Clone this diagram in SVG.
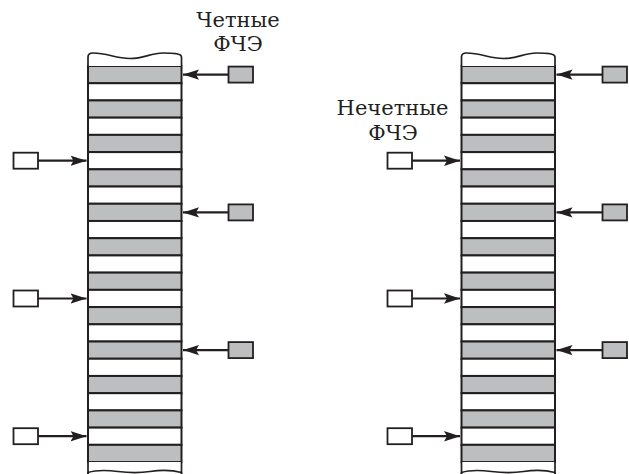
<svg xmlns="http://www.w3.org/2000/svg" width="629" height="474" viewBox="0 0 629 474">
<style>
.bg{fill:#fff}
.g{fill:#bcbec0;stroke:#231f20;stroke-width:2}
.w{fill:#fff;stroke:#231f20;stroke-width:2}
.wave{fill:#fff;stroke:#231f20;stroke-width:1.7}
.box-g{fill:#bcbec0;stroke:#231f20;stroke-width:1.8}
.box-w{fill:#fff;stroke:#231f20;stroke-width:1.8}
.arr{stroke:#231f20;stroke-width:2.2;fill:none;marker-end:url(#ah)}
text{font-family:"DejaVu Serif","Liberation Serif",serif;font-size:21px;fill:#231f20;text-anchor:middle}
</style>
<defs>
<marker id="ah" markerUnits="userSpaceOnUse" markerWidth="18" markerHeight="12" refX="16" refY="6" orient="auto" viewBox="0 0 18 12">
<path d="M0,0.8 L16,6 L0,11.2 L3,6 Z" fill="#231f20"/>
</marker>
<g id="stripes">
<rect class="g" x="0" y="66" width="93.5" height="17.22"/>
<rect class="w" x="0" y="83.22" width="93.5" height="17.22"/>
<rect class="g" x="0" y="100.44" width="93.5" height="17.22"/>
<rect class="w" x="0" y="117.66" width="93.5" height="17.22"/>
<rect class="g" x="0" y="134.88" width="93.5" height="17.22"/>
<rect class="w" x="0" y="152.10" width="93.5" height="17.22"/>
<rect class="g" x="0" y="169.32" width="93.5" height="17.22"/>
<rect class="w" x="0" y="186.54" width="93.5" height="17.22"/>
<rect class="g" x="0" y="203.76" width="93.5" height="17.22"/>
<rect class="w" x="0" y="220.98" width="93.5" height="17.22"/>
<rect class="g" x="0" y="238.20" width="93.5" height="17.22"/>
<rect class="w" x="0" y="255.42" width="93.5" height="17.22"/>
<rect class="g" x="0" y="272.64" width="93.5" height="17.22"/>
<rect class="w" x="0" y="289.86" width="93.5" height="17.22"/>
<rect class="g" x="0" y="307.08" width="93.5" height="17.22"/>
<rect class="w" x="0" y="324.30" width="93.5" height="17.22"/>
<rect class="g" x="0" y="341.52" width="93.5" height="17.22"/>
<rect class="w" x="0" y="358.74" width="93.5" height="17.22"/>
<rect class="g" x="0" y="375.96" width="93.5" height="17.22"/>
<rect class="w" x="0" y="393.18" width="93.5" height="17.22"/>
<rect class="g" x="0" y="410.40" width="93.5" height="17.22"/>
<rect class="w" x="0" y="427.62" width="93.5" height="17.22"/>
<rect class="g" x="0" y="444.84" width="93.5" height="17.22"/>
<path class="wave" d="M0,66 V57 Q0,53 5,53 C20,53 27,58.5 42,58.5 C57,58.5 62,53 75,53 C84,53 93.5,53 93.5,57 V66"/>
<path class="wave" d="M0,462.06 V472.5 C8,470 18,470 30,471.5 C42,473 52,473 62,471.5 C72,470 84,470 93.5,472.5 V462.06"/>
<path d="M0,472.5 V474 M93.5,472.5 V474" stroke="#231f20" stroke-width="2"/>
</g>
</defs>
<rect class="bg" x="0" y="0" width="629" height="474"/>

<g id="column-left">
<use href="#stripes" x="88" y="0"/>
</g>
<g id="column-right">
<use href="#stripes" x="461.5" y="0"/>
</g>

<g id="label-even">
<text x="238" y="26.5">Четные</text>
<text x="238" y="50.5">ФЧЭ</text>
</g>
<g id="label-odd">
<text x="392.5" y="115">Нечетные</text>
<text x="393" y="139.5">ФЧЭ</text>
</g>

<g id="even-left-1"><rect class="box-g" x="228.5" y="66.6" width="24.5" height="16"/></g>
<g id="even-left-2"><rect class="box-g" x="228.5" y="204.4" width="24.5" height="16"/></g>
<g id="even-left-3"><rect class="box-g" x="228.5" y="342.1" width="24.5" height="16"/></g>
<g id="odd-left-1"><rect class="box-w" x="13.5" y="152.7" width="24.5" height="16"/></g>
<g id="odd-left-2"><rect class="box-w" x="13.5" y="290.5" width="24.5" height="16"/></g>
<g id="odd-left-3"><rect class="box-w" x="13.5" y="428.2" width="24.5" height="16"/></g>

<g id="even-right-1"><rect class="box-g" x="602.5" y="66.6" width="24.5" height="16"/></g>
<g id="even-right-2"><rect class="box-g" x="602.5" y="204.4" width="24.5" height="16"/></g>
<g id="even-right-3"><rect class="box-g" x="602.5" y="342.1" width="24.5" height="16"/></g>
<g id="odd-right-1"><rect class="box-w" x="387.5" y="152.7" width="24.5" height="16"/></g>
<g id="odd-right-2"><rect class="box-w" x="387.5" y="290.5" width="24.5" height="16"/></g>
<g id="odd-right-3"><rect class="box-w" x="387.5" y="428.2" width="24.5" height="16"/></g>

<g id="connectors">
<line class="arr" x1="228.5" y1="74.6" x2="183" y2="74.6"/>
<line class="arr" x1="228.5" y1="212.4" x2="183" y2="212.4"/>
<line class="arr" x1="228.5" y1="350.1" x2="183" y2="350.1"/>
<line class="arr" x1="38" y1="160.7" x2="86.5" y2="160.7"/>
<line class="arr" x1="38" y1="298.5" x2="86.5" y2="298.5"/>
<line class="arr" x1="38" y1="436.2" x2="86.5" y2="436.2"/>
<line class="arr" x1="602.5" y1="74.6" x2="556.5" y2="74.6"/>
<line class="arr" x1="602.5" y1="212.4" x2="556.5" y2="212.4"/>
<line class="arr" x1="602.5" y1="350.1" x2="556.5" y2="350.1"/>
<line class="arr" x1="412" y1="160.7" x2="460" y2="160.7"/>
<line class="arr" x1="412" y1="298.5" x2="460" y2="298.5"/>
<line class="arr" x1="412" y1="436.2" x2="460" y2="436.2"/>
</g>
</svg>
